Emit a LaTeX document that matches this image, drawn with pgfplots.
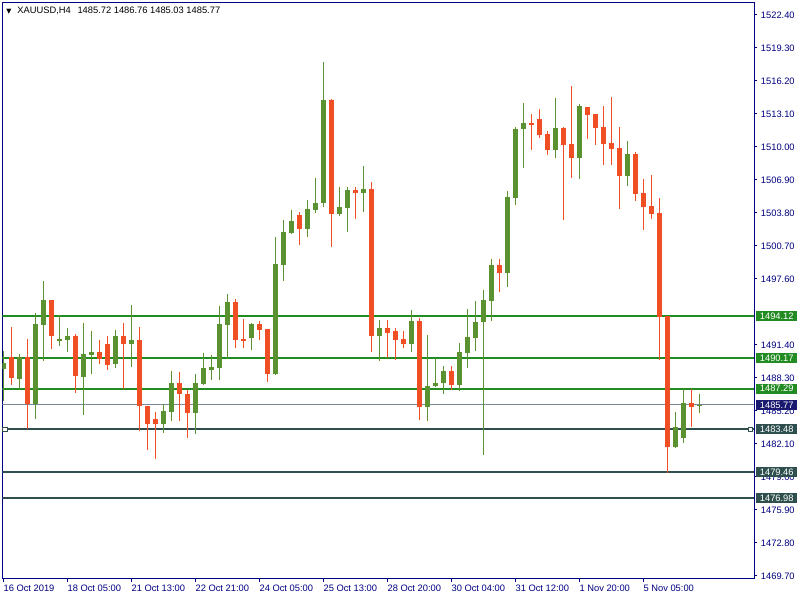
\documentclass[border=0pt]{standalone}
\usepackage{fontspec}
\setmainfont{Liberation Sans}
\newfontfamily\dejavu{DejaVu Sans}
\usepackage{pgfplots}
\usepackage{pgfplotstable}
\pgfplotsset{compat=1.18}

\definecolor{navyax}{RGB}{0,0,128}
\definecolor{upc}{RGB}{90,146,50}
\definecolor{dnc}{RGB}{240,78,36}
\definecolor{levgreen}{RGB}{34,139,34}
\definecolor{slate}{RGB}{47,79,79}
\definecolor{pricegray}{RGB}{119,136,153}
\definecolor{pricebox}{RGB}{25,25,112}

% XAUUSD H4 candles (index, open, high, low, close), rising bars
\pgfplotstableread{
x o h l c
0 1489.18 1490.84 1486.18 1489.68
2 1488.24 1490.56 1487.27 1490.25
4 1485.89 1494.41 1484.49 1493.38
5 1493.32 1497.42 1489.93 1495.63
7 1491.81 1494.22 1491.34 1491.97
8 1491.91 1493.00 1490.78 1492.25
10 1488.43 1493.47 1484.86 1490.56
11 1490.50 1492.72 1488.71 1490.75
14 1489.65 1492.81 1489.28 1492.25
16 1491.53 1495.16 1489.37 1491.87
20 1484.02 1485.86 1483.17 1485.21
21 1485.14 1488.96 1484.30 1487.84
24 1485.05 1488.68 1483.08 1487.84
25 1487.77 1490.65 1487.68 1489.24
26 1489.09 1490.47 1488.15 1489.34
27 1489.28 1495.07 1488.15 1493.38
28 1493.31 1496.19 1490.12 1495.44
31 1492.09 1493.44 1490.96 1493.37
34 1488.71 1501.55 1488.61 1499.01
35 1498.95 1503.14 1497.44 1502.01
36 1501.95 1504.08 1501.86 1503.05
38 1502.33 1505.02 1501.58 1504.18
39 1504.11 1507.09 1503.83 1504.74
40 1504.77 1517.98 1504.39 1514.41
42 1503.74 1506.24 1503.55 1504.36
43 1504.30 1506.24 1502.05 1505.96
45 1505.71 1508.21 1503.92 1506.05
47 1492.28 1493.75 1489.93 1493.00
51 1491.53 1494.69 1490.77 1493.65
53 1485.61 1492.34 1484.29 1487.55
54 1487.55 1490.18 1487.45 1487.83
55 1487.83 1489.43 1486.83 1488.96
57 1487.67 1491.59 1487.11 1490.74
58 1490.68 1494.78 1489.27 1492.15
59 1492.09 1495.53 1490.87 1493.56
60 1493.59 1496.56 1481.10 1495.63
61 1495.56 1499.48 1493.68 1498.91
63 1498.19 1505.86 1496.88 1505.30
64 1505.24 1511.88 1504.55 1511.69
65 1511.69 1514.13 1508.02 1512.25
69 1509.71 1514.60 1508.96 1511.78
72 1508.96 1514.04 1506.99 1513.85
78 1507.28 1510.57 1506.34 1509.35
84 1481.82 1485.11 1481.73 1483.70
85 1482.67 1487.27 1482.20 1485.96
87 1485.72 1486.76 1485.03 1485.77
}\upbars

% falling bars
\pgfplotstableread{
x o h l c
1 1490.25 1493.10 1487.65 1488.34
3 1490.25 1491.97 1483.48 1485.89
6 1495.63 1495.63 1491.06 1492.28
9 1492.25 1492.44 1486.93 1488.52
12 1490.75 1491.87 1489.65 1490.12
13 1491.50 1492.25 1489.09 1489.56
15 1492.25 1493.47 1487.30 1491.53
17 1491.87 1493.10 1483.36 1485.71
18 1485.71 1485.71 1481.57 1484.02
19 1484.45 1485.11 1480.73 1484.02
22 1487.84 1488.87 1484.30 1486.83
23 1486.80 1487.18 1482.70 1485.05
29 1495.44 1495.73 1491.15 1491.87
30 1491.97 1493.85 1491.15 1491.81
32 1493.37 1493.65 1491.90 1492.84
33 1492.90 1492.90 1487.96 1488.71
37 1503.61 1503.89 1500.82 1502.33
41 1514.41 1514.51 1500.64 1503.74
44 1505.96 1506.24 1503.27 1505.71
46 1506.05 1506.71 1490.77 1492.28
48 1493.00 1493.75 1490.21 1492.56
49 1492.72 1493.00 1490.02 1491.90
50 1491.96 1492.72 1491.15 1491.53
52 1493.65 1493.94 1484.39 1485.61
56 1488.96 1489.43 1487.20 1487.67
62 1498.91 1499.48 1496.41 1498.19
66 1512.25 1513.10 1509.71 1512.09
67 1512.63 1513.57 1510.87 1511.16
68 1511.22 1511.50 1509.25 1509.71
70 1511.78 1511.88 1503.14 1510.18
71 1510.28 1515.73 1507.08 1508.96
73 1513.75 1513.75 1510.75 1513.03
74 1513.10 1513.10 1510.18 1511.78
75 1511.88 1513.85 1508.31 1510.28
76 1510.37 1514.69 1508.31 1509.81
77 1509.90 1511.88 1504.17 1507.27
79 1509.35 1509.53 1504.93 1505.59
80 1505.68 1507.00 1502.21 1504.37
81 1504.46 1507.37 1503.24 1503.71
82 1503.80 1505.21 1490.00 1494.04
83 1494.13 1494.13 1479.38 1481.82
86 1485.96 1487.27 1483.70 1485.58
}\dnbars

\begin{document}
\begin{tikzpicture}[font=\fontsize{7}{8}\selectfont,
  lab/.style={anchor=west, xshift=1.5pt, inner sep=0pt, minimum width=30.7pt,
    minimum height=7.5pt, text=white, font=\fontsize{7}{8}\selectfont}]
  \begin{axis}[
    set layers,
    scale only axis,
    width=563.78pt, height=432.15pt,
    xmin=-0.125, xmax=93.84,
    ymin=1469.46, ymax=1523.59,
    clip mode=individual,
    axis line style={navyax, line width=0.75pt},
    tick align=outside,
    major tick length=2.5pt,
    tick style={navyax, line width=0.75pt},
    xtick pos=left,
    ytick pos=right,
    yticklabel pos=right,
    xtick={0,8,16,24,32,40,48,56,64,72,80},
    xticklabels={16 Oct 2019,18 Oct 05:00,21 Oct 13:00,22 Oct 21:00,24 Oct 05:00,25 Oct 13:00,28 Oct 20:00,30 Oct 04:00,31 Oct 12:00,1 Nov 20:00,5 Nov 05:00},
    ytick={1469.7,1472.8,1475.9,1479.0,1482.1,1485.2,1488.3,1491.4,1497.6,1500.7,1503.8,1506.9,1510.0,1513.1,1516.2,1519.3,1522.4},
    /pgf/number format/assume math mode=true,
    tick label style={font=\fontsize{7}{8}\selectfont, text=navyax, inner sep=0pt},
    yticklabel style={anchor=west, xshift=2.5pt,
      /pgf/number format/fixed, /pgf/number format/fixed zerofill,
      /pgf/number format/precision=2, /pgf/number format/1000 sep={}},
    xticklabel style={anchor=north west, yshift=-2.5pt},
  ]
    % support / resistance levels
    \addplot[levgreen, line width=1.5pt] coordinates {(-0.125,1494.12) (93.84,1494.12)};
    \addplot[levgreen, line width=1.5pt] coordinates {(-0.125,1490.17) (93.84,1490.17)};
    \addplot[levgreen, line width=1.5pt] coordinates {(-0.125,1487.29) (93.84,1487.29)};
    \addplot[pricegray, line width=0.75pt] coordinates {(-0.125,1485.77) (93.84,1485.77)};
    \addplot[slate, line width=1.5pt] coordinates {(-0.125,1483.48) (93.84,1483.48)};
    \addplot[slate, line width=1.5pt] coordinates {(-0.125,1479.46) (93.84,1479.46)};
    \addplot[slate, line width=1.5pt] coordinates {(-0.125,1476.98) (93.84,1476.98)};
    \addplot[only marks, mark=square*, mark size=1.6pt,
      mark options={fill=white, draw=slate, line width=0.9pt}]
      coordinates {(0.21,1483.48) (93.4,1483.48)};

    % rising candles: wick then body
    \addplot[draw=none, no markers,
      error bars/.cd, y dir=plus, y explicit, error mark=none,
      error bar style={draw=upc, line width=0.75pt}]
      table[x=x, y=l, y error expr=\thisrow{h}-\thisrow{l}] {\upbars};
    \addplot[draw=none, no markers,
      error bars/.cd, y dir=plus, y explicit, error mark=none,
      error bar style={draw=upc, line width=3.75pt}]
      table[x=x, y=o, y error expr=\thisrow{c}-\thisrow{o}] {\upbars};
    % falling candles
    \addplot[draw=none, no markers,
      error bars/.cd, y dir=plus, y explicit, error mark=none,
      error bar style={draw=dnc, line width=0.75pt}]
      table[x=x, y=l, y error expr=\thisrow{h}-\thisrow{l}] {\dnbars};
    \addplot[draw=none, no markers,
      error bars/.cd, y dir=plus, y explicit, error mark=none,
      error bar style={draw=dnc, line width=3.75pt}]
      table[x=x, y=c, y error expr=\thisrow{o}-\thisrow{c}] {\dnbars};

    % price labels on the right
    \node[lab, fill=levgreen] at (axis cs:93.84,1494.12) {1494.12};
    \node[lab, fill=levgreen] at (axis cs:93.84,1490.17) {1490.17};
    \node[lab, fill=levgreen] at (axis cs:93.84,1487.29) {1487.29};
    \node[lab, fill=pricebox] at (axis cs:93.84,1485.77) {1485.77};
    \node[lab, fill=slate] at (axis cs:93.84,1483.48) {1483.48};
    \node[lab, fill=slate] at (axis cs:93.84,1479.46) {1479.46};
    \node[lab, fill=slate] at (axis cs:93.84,1476.98) {1476.98};

    % title
    \node[anchor=base west, inner sep=0pt, xshift=2.8pt, yshift=-8.4pt] at (rel axis cs:0,1)
      {{\dejavu\fontsize{5}{5}\selectfont ▼}\hspace{4.5pt}XAUUSD,H4\hspace{5pt}1485.72 1486.76 1485.03 1485.77};
  \end{axis}
  \pgfresetboundingbox
  \path[use as bounding box] (-1.725pt,-16.125pt) rectangle ++(600pt,450pt);
\end{tikzpicture}
\end{document}
